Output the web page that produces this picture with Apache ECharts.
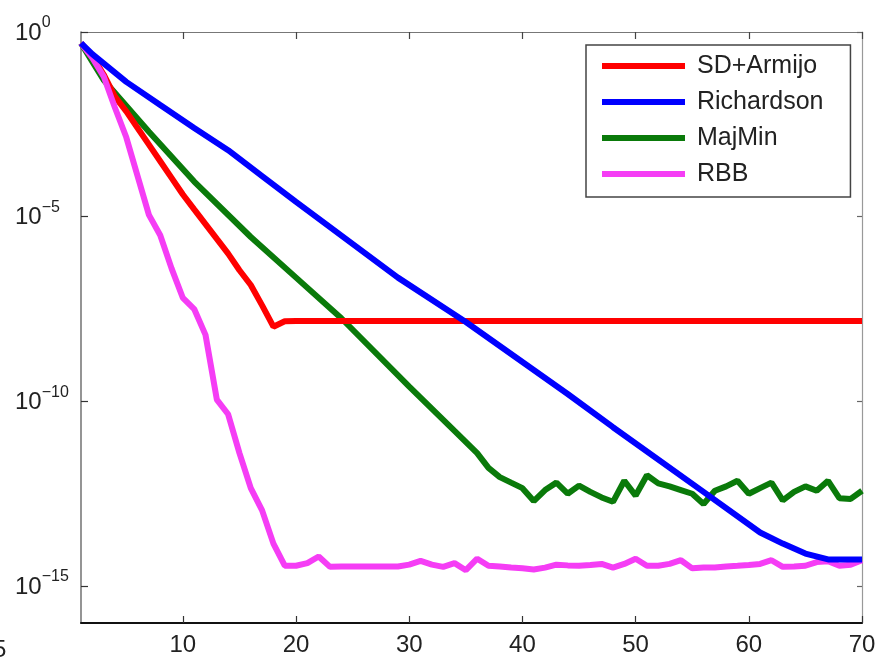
<!DOCTYPE html>
<html>
<head>
<meta charset="utf-8">
<script src="https://cdn.jsdelivr.net/npm/echarts@6/dist/echarts.min.js"></script>
<style>
html,body{margin:0;padding:0;background:#fff;}
#chart{width:884px;height:663px;}
</style>
</head>
<body>
<div id="chart"></div>
<script>
// ---- data (x = iteration, y = error, log scale) ----
const seriesNames = ['SD+Armijo', 'Richardson', 'MajMin', 'RBB'];
const xTicks = [10, 20, 30, 40, 50, 60, 70];
const yTicks = [1e-15, 1e-10, 1e-5, 1];

const sdArmijoX = [1,2,3,4,5,6,7,8,9,10,11,12,13,14,15,16,17,18,19,20,70];
const sdArmijoY = [5.0e-1,2.24e-1,7.08e-2,1.78e-2,7.08e-3,2.51e-3,8.91e-4,3.16e-4,1.12e-4,3.98e-5,1.58e-5,6.31e-6,2.51e-6,1.0e-6,3.55e-7,1.41e-7,3.98e-8,1.05e-8,1.48e-8,1.51e-8,1.51e-8];

const richardsonX = [1,2,5,8,11,14,17,20,29,35,44,48,56,61,63,65,67,70];
const richardsonY = [5.0e-1,2.51e-1,4.47e-2,1.05e-2,2.51e-3,6.31e-4,1.26e-4,2.51e-5,2.24e-7,1.41e-8,1.58e-10,2.0e-11,3.55e-13,2.82e-14,1.41e-14,7.59e-15,5.25e-15,5.25e-15];

const majMinX = [1,2,3,7,11,16,20,24,30,34,36,37,38,39,40,41,42,43,44,45,46,47,48,49,50,51,52,53,54,55,56,57,58,59,60,61,62,63,64,65,66,67,68,69,70];
const majMinY = [5.0e-1,1.58e-1,5.01e-2,2.0e-3,8.91e-5,2.82e-6,2.24e-7,1.78e-8,2.51e-10,1.58e-11,3.98e-12,1.58e-12,8.91e-13,6.31e-13,4.47e-13,2.0e-13,3.98e-13,6.31e-13,3.16e-13,5.25e-13,3.55e-13,2.51e-13,1.91e-13,7.08e-13,2.82e-13,1.0e-12,6.03e-13,5.01e-13,3.98e-13,3.16e-13,1.66e-13,3.80e-13,5.01e-13,7.08e-13,3.16e-13,4.47e-13,6.31e-13,2.09e-13,3.55e-13,5.01e-13,3.80e-13,7.08e-13,2.40e-13,2.29e-13,3.80e-13];

const rbbX = [1,2,3,4,5,6,7,8,9,10,11,12,13,14,15,16,17,18,19,20,21,22,23,24,25,26,27,28,29,30,31,32,33,34,35,36,37,38,39,40,41,42,43,44,45,46,47,48,49,50,51,52,53,54,55,56,57,58,59,60,61,62,63,64,65,66,67,68,69,70];
const rbbY = [5.0e-1,2.0e-1,6.31e-2,8.91e-3,1.41e-3,1.26e-4,1.12e-5,3.16e-6,3.98e-7,6.31e-8,3.16e-8,6.31e-9,1.12e-10,4.47e-11,3.98e-12,4.47e-13,1.12e-13,1.41e-14,3.55e-15,3.55e-15,4.17e-15,6.31e-15,3.31e-15,3.39e-15,3.39e-15,3.39e-15,3.39e-15,3.39e-15,3.39e-15,3.80e-15,4.79e-15,3.80e-15,3.31e-15,4.17e-15,2.69e-15,5.50e-15,3.55e-15,3.39e-15,3.16e-15,3.02e-15,2.82e-15,3.16e-15,3.80e-15,3.63e-15,3.55e-15,3.72e-15,3.98e-15,3.16e-15,3.98e-15,5.50e-15,3.55e-15,3.55e-15,3.98e-15,5.01e-15,3.02e-15,3.16e-15,3.16e-15,3.39e-15,3.55e-15,3.72e-15,3.98e-15,5.01e-15,3.31e-15,3.39e-15,3.55e-15,4.47e-15,4.68e-15,3.55e-15,3.80e-15,5.01e-15];

const colors = ['#ff0000', '#0000ff', '#0a7a0a', '#f53df5'];
// ---------------------------------------------------------------------------

function pairs(xs, ys) { return xs.map((x, i) => [x, ys[i]]); }
const FONT = 'Liberation Sans, Arial, Helvetica, sans-serif';

function yLabel(v) {
  const e = Math.round(Math.log10(v));
  const s = e < 0 ? '\u2212' + (-e) : String(e);
  return '{b|10}{s|' + s + '}';
}

const chart = echarts.init(document.getElementById('chart'), null, {renderer: 'canvas'});
chart.setOption({
  animation: false,
  backgroundColor: '#ffffff',
  grid: {left: 81, top: 32, right: 22, bottom: 40, containLabel: false},
  legend: {
    data: seriesNames,
    orient: 'vertical',
    left: 586, top: 45,
    padding: [6, 27, 8, 16],
    itemWidth: 83, itemHeight: 6, itemGap: 6,
    icon: 'rect',
    backgroundColor: '#ffffff',
    borderColor: '#444', borderWidth: 1.5,
    textStyle: {fontSize: 25, lineHeight: 30, color: '#222', fontFamily: FONT, padding: [0, 0, 0, 7]}
  },
  xAxis: [{
    type: 'value', min: 1, max: 70, position: 'bottom',
    splitLine: {show: false},
    axisLine: {show: true, lineStyle: {color: '#111', width: 2}},
    axisTick: {show: true, inside: true, length: 7, customValues: xTicks, lineStyle: {color: '#333', width: 1.2}},
    axisLabel: {show: true, customValues: xTicks, fontSize: 24, color: '#222', margin: 10, fontFamily: FONT}
  }, {
    type: 'value', min: 1, max: 70, position: 'top',
    splitLine: {show: false},
    axisLine: {show: true, lineStyle: {color: '#777', width: 1.2}},
    axisTick: {show: true, inside: true, length: 7, customValues: xTicks, lineStyle: {color: '#444', width: 1.2}},
    axisLabel: {show: false}
  }],
  yAxis: [{
    type: 'log', logBase: 10, min: 1e-16, max: 1, position: 'left',
    splitLine: {show: false},
    axisLine: {show: true, lineStyle: {color: '#7a7a7a', width: 1.6}},
    axisTick: {show: true, inside: true, length: 7, customValues: yTicks, lineStyle: {color: '#333', width: 1.2}},
    minorTick: {show: false},
    axisLabel: {
      show: true, customValues: yTicks, formatter: yLabel,
      align: 'left', margin: 66,
      rich: {
        b: {fontSize: 24, lineHeight: 34, verticalAlign: 'bottom', color: '#222', fontFamily: FONT, padding: [0, 0, 4, 0]},
        s: {fontSize: 16, lineHeight: 16, verticalAlign: 'top', color: '#222', fontFamily: FONT}
      }
    }
  }, {
    type: 'log', logBase: 10, min: 1e-16, max: 1, position: 'right',
    splitLine: {show: false},
    axisLine: {show: true, lineStyle: {color: '#999', width: 1.2}},
    axisTick: {show: true, inside: true, length: 5, customValues: yTicks, lineStyle: {color: '#666', width: 1.2}},
    minorTick: {show: false},
    axisLabel: {show: false}
  }],
  series: [
    {name: seriesNames[0], type: 'line', data: pairs(sdArmijoX, sdArmijoY), color: colors[0], showSymbol: false, symbol: 'none', lineStyle: {width: 6, color: colors[0]}, z: 3},
    {name: seriesNames[1], type: 'line', data: pairs(richardsonX, richardsonY), color: colors[1], showSymbol: false, symbol: 'none', lineStyle: {width: 6, color: colors[1]}, z: 4},
    {name: seriesNames[2], type: 'line', data: pairs(majMinX, majMinY), color: colors[2], showSymbol: false, symbol: 'none', lineStyle: {width: 6, color: colors[2]}, z: 2},
    {name: seriesNames[3], type: 'line', data: pairs(rbbX, rbbY), color: colors[3], showSymbol: false, symbol: 'none', lineStyle: {width: 6, color: colors[3]}, z: 3}
  ],
  graphic: [{
    type: 'text', x: -7, y: 638,
    style: {text: '5', fontSize: 24, fill: '#222', fontFamily: FONT}
  }]
});
</script>
</body>
</html>
